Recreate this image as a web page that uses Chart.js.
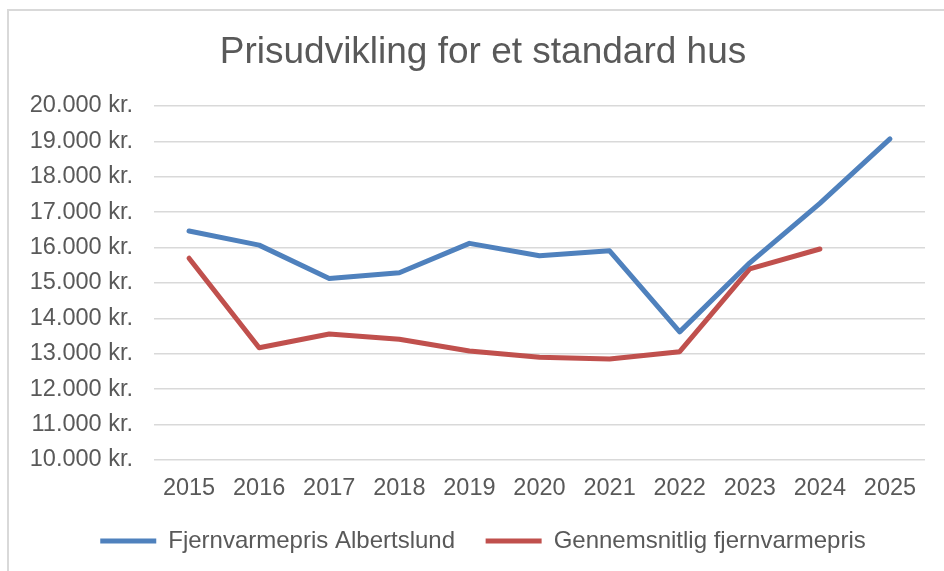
<!DOCTYPE html>
<html>
<head>
<meta charset="utf-8">
<script src="https://cdn.jsdelivr.net/npm/chart.js@4/dist/chart.umd.min.js"></script>
<style>
  html, body { margin: 0; padding: 0; background: #ffffff; overflow: hidden; width: 944px; height: 571px; }
  #frame { position: absolute; left: 7px; top: 9px; width: 1100px; height: 700px;
           border-left: 2px solid #d9d9d9; border-top: 2px solid #d9d9d9; }
  #wrap { position: absolute; left: 0; top: 0; width: 966px; height: 571px; }
</style>
</head>
<body>
<div id="frame"></div>
<div id="wrap"><canvas id="c" width="966" height="571"></canvas></div>
<script>
const years = ['2015','2016','2017','2018','2019','2020','2021','2022','2023','2024','2025'];
const albertslund = [16470, 16070, 15130, 15290, 16120, 15770, 15910, 13620, 15570, 17250, 19070];
const gennemsnit = [15700, 13170, 13560, 13410, 13080, 12900, 12850, 13060, 15400, 15960, null];
const seriesNames = ['Fjernvarmepris Albertslund', 'Gennemsnitlig fjernvarmepris'];
const titleText = 'Prisudvikling for et standard hus';

const textColor = '#595959';
const fontFamily = '"Liberation Sans", Arial, sans-serif';

function fmt(v) {
  return String(v).replace(/\B(?=(\d{3})+(?!\d))/g, '.') + ' kr.';
}

new Chart(document.getElementById('c'), {
  type: 'line',
  data: {
    labels: years,
    datasets: [
      { label: seriesNames[0], data: albertslund, borderColor: '#4f81bd', backgroundColor: '#4f81bd',
        borderWidth: 5, pointRadius: 0, tension: 0, borderCapStyle: 'round', borderJoinStyle: 'round', fill: false },
      { label: seriesNames[1], data: gennemsnit, borderColor: '#c0504d', backgroundColor: '#c0504d',
        borderWidth: 5, pointRadius: 0, tension: 0, borderCapStyle: 'round', borderJoinStyle: 'round', fill: false }
    ]
  },
  options: {
    responsive: false,
    animation: false,
    devicePixelRatio: 1,
    layout: { padding: { left: 0, right: 0, top: 0, bottom: 8 } },
    plugins: {
      tooltip: { enabled: false },
      title: {
        display: true, text: titleText, color: textColor,
        font: { family: fontFamily, size: 37, weight: 'normal', lineHeight: 1.2 },
        padding: { top: 31, bottom: 30.6 }
      },
      legend: {
        position: 'bottom',
        labels: {
          color: textColor,
          font: { family: fontFamily, size: 24 },
          usePointStyle: true, pointStyle: 'line', pointStyleWidth: 56,
          padding: 30.6
        }
      }
    },
    scales: {
      x: {
        offset: true,
        grid: { display: false, drawTicks: false },
        border: { display: false },
        ticks: { color: textColor, font: { family: fontFamily, size: 23.5, lineHeight: 0.8 }, padding: 19.6,
                 maxRotation: 0, autoSkip: false },
        afterFit: (s) => { s.height = 38.4; }
      },
      y: {
        min: 10000, max: 20000,
        grid: { color: '#d9d9d9', lineWidth: 1.5, drawTicks: false },
        border: { display: false },
        ticks: { stepSize: 1000, color: textColor, font: { family: fontFamily, size: 23.5 }, padding: 21,
                 callback: (v) => fmt(v) },
        afterFit: (s) => { s.width = 154; }
      },
      yR: {
        position: 'right',
        display: true,
        grid: { display: false, drawTicks: false },
        border: { display: false },
        ticks: { display: false },
        afterFit: (s) => { s.width = 41; }
      }
    }
  }
});
</script>
</body>
</html>
